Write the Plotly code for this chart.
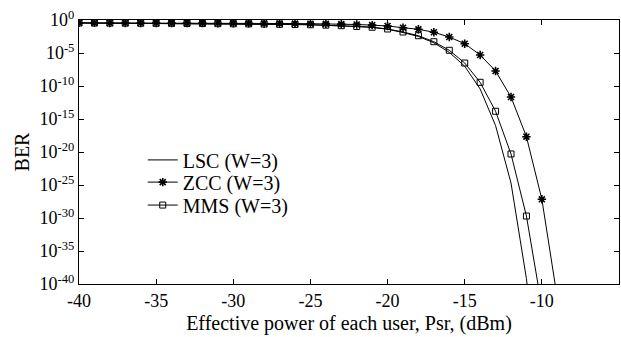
import plotly.graph_objects as go

# Effective power of each user (dBm)
psr = list(range(-40, -8))

# log10(BER) for each scheme at every power step
lsc_log10 = [-0.45, -0.46, -0.47, -0.48, -0.49, -0.50, -0.51, -0.52, -0.53, -0.55,
             -0.57, -0.59, -0.62, -0.65, -0.68, -0.72, -0.78, -0.87, -0.98, -1.12,
             -1.40, -1.90, -2.50, -3.45, -4.90, -7.00, -10.45, -16.00, -24.70, -39.20,
             -60.00]
zcc_log10 = [-0.44, -0.44, -0.45, -0.45, -0.46, -0.46, -0.47, -0.47, -0.48, -0.49,
             -0.50, -0.51, -0.52, -0.53, -0.54, -0.56, -0.58, -0.62, -0.68, -0.78,
             -0.91, -1.17, -1.41, -1.86, -2.58, -3.59, -5.30, -7.73, -11.67, -17.68,
             -27.17, -42.10]
mms_log10 = [-0.45, -0.46, -0.47, -0.48, -0.49, -0.50, -0.51, -0.52, -0.53, -0.55,
             -0.57, -0.59, -0.62, -0.65, -0.68, -0.72, -0.78, -0.86, -0.98, -1.10,
             -1.36, -1.82, -2.38, -3.29, -4.59, -6.52, -9.44, -13.83, -20.30, -29.70,
             -43.50]

x_ticks = [-40, -35, -30, -25, -20, -15, -10, -5]
x_tick_text = ["-40", "-35", "-30", "-25", "-20", "-15", "-10", "-5"]
y_exponents = [0, -5, -10, -15, -20, -25, -30, -35, -40]

FONT = "Liberation Serif, Times New Roman, serif"
TICK_SIZE = 18
TEXT_SIZE = 20

fig = go.Figure()

fig.add_trace(go.Scatter(
    x=psr[:len(lsc_log10)], y=[10 ** v for v in lsc_log10],
    mode="lines", name="LSC (W=3)", legend="legend",
    line=dict(color="black", width=1),
))
fig.add_trace(go.Scatter(
    x=psr[:len(zcc_log10)], y=[10 ** v for v in zcc_log10],
    mode="lines+markers", name="ZCC (W=3)", legend="legend2",
    line=dict(color="black", width=1),
    marker=dict(symbol="asterisk-open", size=7, color="black",
                line=dict(color="black", width=1.6)),
))
fig.add_trace(go.Scatter(
    x=psr[:len(mms_log10)], y=[10 ** v for v in mms_log10],
    mode="lines+markers", name="MMS (W=3)", legend="legend3",
    line=dict(color="black", width=1),
    marker=dict(symbol="square-open", size=6, color="black",
                line=dict(color="black", width=1)),
))

axis_common = dict(
    showline=True, linecolor="black", linewidth=1, mirror="ticks",
    ticks="inside", ticklen=5, tickcolor="black", tickwidth=1,
    showgrid=False, zeroline=False,
    tickfont=dict(family=FONT, size=TICK_SIZE, color="black"),
)


def legend_box(y_center):
    # one legend box per series so the row spacing can be set freely
    return dict(
        x=0.118, y=y_center, xanchor="left", yanchor="middle",
        bgcolor="rgba(0,0,0,0)", borderwidth=0, itemwidth=30,
        font=dict(family=FONT, size=TEXT_SIZE, color="black"),
    )


fig.update_layout(
    width=621, height=337,
    margin=dict(l=79, r=2, t=20, b=53),
    paper_bgcolor="white", plot_bgcolor="white",
    font=dict(family=FONT, size=TEXT_SIZE, color="black"),
    showlegend=True,
    legend=legend_box(0.470),
    legend2=legend_box(0.386),
    legend3=legend_box(0.299),
    xaxis=dict(
        range=[-40, -5], tickvals=x_ticks, ticktext=x_tick_text,
        title=dict(text="Effective power of each user, Psr, (dBm)",
                   font=dict(family=FONT, size=TEXT_SIZE), standoff=6),
        **axis_common,
    ),
    yaxis=dict(
        type="log", range=[-40, 0],
        tickvals=[10.0 ** e for e in y_exponents],
        ticktext=[f"10<sup>{e}</sup>" for e in y_exponents],
        title=dict(text="BER", font=dict(family=FONT, size=TEXT_SIZE), standoff=4),
        **axis_common,
    ),
)

fig.write_html("out.html")
